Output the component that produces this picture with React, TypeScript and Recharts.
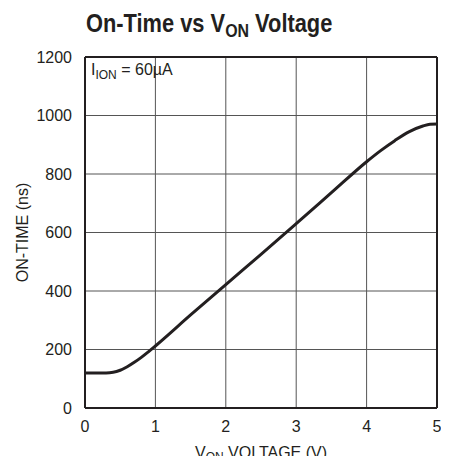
import { LineChart, Line, XAxis, YAxis, CartesianGrid, ReferenceLine } from "recharts";

const voltage = [0, 0.3, 0.4, 0.5, 0.6, 0.7, 0.8, 0.9, 1.0, 1.5, 2.0, 2.5, 3.0, 3.5, 4.0, 4.2, 4.4, 4.6, 4.8, 4.9, 5.0];
const onTime = [120, 120, 122, 129, 141, 156, 173, 192, 212, 318, 422, 525, 630, 736, 842, 880, 914, 944, 964, 970, 971];
const xTicks = [0, 1, 2, 3, 4, 5];
const yTicks = [0, 200, 400, 600, 800, 1000, 1200];

const data = voltage.map((v, i) => ({ v, t: onTime[i] }));

const FONT = "'Liberation Sans', Arial, sans-serif";
const INK = "#231f20";

function XLabel({ viewBox }: any) {
  const cx = viewBox.x + viewBox.width / 2;
  return (
    <text x={cx} y={viewBox.y + 50} textAnchor="middle" fontFamily={FONT} fontSize={16} fill={INK}>
      V<tspan dy={3} fontSize={12}>ON</tspan>
      <tspan dy={-3}> VOLTAGE (V)</tspan>
    </text>
  );
}

function YLabel({ viewBox }: any) {
  const x = viewBox.x + 28;
  const y = viewBox.y + viewBox.height / 2;
  return (
    <text x={x} y={y} textAnchor="middle" fontFamily={FONT} fontSize={16} fill={INK} transform={`rotate(-90 ${x} ${y})`}>
      ON-TIME (ns)
    </text>
  );
}

export default function App() {
  return (
    <div style={{ position: "relative", width: 449, height: 464, margin: -8, background: "#fff" }}>
      <svg width={449} height={42} style={{ position: "absolute", left: 0, top: 0 }}>
        <text
          transform="translate(86 32) scale(0.84 1)"
          fontFamily={FONT}
          fontWeight="bold"
          fontSize={26}
          fill={INK}
        >
          On-Time vs V<tspan dy={5} fontSize={19}>ON</tspan>
          <tspan dy={-5}> Voltage</tspan>
        </text>
      </svg>
      <LineChart
        width={449}
        height={464}
        data={data}
        margin={{ top: 57, right: 12, left: 0, bottom: 0 }}
        style={{ position: "absolute", left: 0, top: 0 }}
      >
        <CartesianGrid stroke="#555" strokeWidth={1} />
        <XAxis
          dataKey="v"
          type="number"
          domain={[0, 5]}
          ticks={xTicks}
          height={56}
          tickLine={false}
          tickSize={0}
          tickMargin={13}
          axisLine={{ stroke: INK, strokeWidth: 2 }}
          tick={{ fill: INK, fontFamily: FONT, fontSize: 16 }}
          label={<XLabel />}
        />
        <YAxis
          type="number"
          domain={[0, 1200]}
          ticks={yTicks}
          width={85}
          tickLine={false}
          tickSize={0}
          tickMargin={13}
          axisLine={{ stroke: INK, strokeWidth: 2 }}
          tick={{ fill: INK, fontFamily: FONT, fontSize: 16 }}
          label={<YLabel />}
        />
        <ReferenceLine y={1200} stroke={INK} strokeWidth={2} />
        <ReferenceLine x={5} stroke={INK} strokeWidth={2} />
        <Line
          type="monotone"
          dataKey="t"
          stroke={INK}
          strokeWidth={3}
          dot={false}
          isAnimationActive={false}
        />
      </LineChart>
      <svg width={200} height={30} style={{ position: "absolute", left: 0, top: 57, pointerEvents: "none" }}>
        <text x={91} y={18} fontFamily={FONT} fontSize={16} fill={INK}>
          I<tspan dy={4} fontSize={12}>ION</tspan>
          <tspan dy={-4}> = 60µA</tspan>
        </text>
      </svg>
    </div>
  );
}
